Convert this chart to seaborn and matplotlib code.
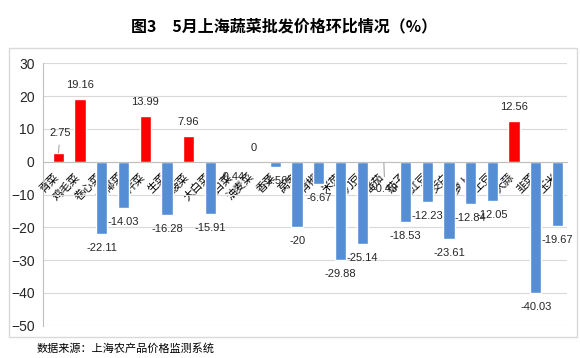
import matplotlib
matplotlib.use("Agg")
import matplotlib.pyplot as plt
import matplotlib.transforms as mtrans
from matplotlib.patches import Rectangle
import seaborn as sns
import pandas as pd

# ---- data ----
categories = ["青菜", "鸡毛菜", "卷心菜", "花椰菜", "芹菜", "生菜", "菠菜", "大白菜",
              "杭白菜", "油麦菜", "香菜", "莴笋", "青椒", "米苋", "刀豆", "番茄",
              "茄子", "长豇豆", "茭白", "白萝卜", "土豆", "大蒜", "韭菜", "玉米"]
values = [2.75, 19.16, -22.11, -14.03, 13.99, -16.28, 7.96, -15.91,
          -0.44, 0, -1.56, -20, -6.67, -29.88, -25.14, -0.43,
          -18.53, -12.23, -23.61, -12.84, -12.05, 12.56, -40.03, -19.67]
value_labels = ["2.75", "19.16", "-22.11", "-14.03", "13.99", "-16.28", "7.96", "-15.91",
                "-0.44", "0", "-1.56", "-20", "-6.67", "-29.88", "-25.14", "-0.43",
                "-18.53", "-12.23", "-23.61", "-12.84", "-12.05", "12.56", "-40.03", "-19.67"]
yticks = [-50, -40, -30, -20, -10, 0, 10, 20, 30]
title = "图3　5月上海蔬菜批发价格环比情况（%）"
source = "数据来源：上海农产品价格监测系统"

RED = "#FF0000"
BLUE = "#558ED5"
colors = [RED if v > 0 else BLUE for v in values]

sns.set_style("white")
plt.rcParams["font.family"] = ["Liberation Sans", "Noto Sans CJK SC", "DejaVu Sans"]

df = pd.DataFrame({"cat": categories, "val": values})

fig = plt.figure(figsize=(5.8, 3.58), dpi=100)
ax = fig.add_axes([43 / 580, 1 - 325.7 / 358, 524 / 580, (325.7 - 63.3) / 358])

sns.barplot(data=df, x="cat", y="val", hue="cat", palette=colors, legend=False,
            width=0.52, saturation=1, ax=ax, zorder=2)

ax.set_ylim(-50, 30)
ax.set_yticks(yticks)
ax.set_xlim(-0.71, 23.44)
ax.set_xlabel("")
ax.set_ylabel("")

ax.grid(axis="y", color="#D9D9D9", lw=0.8)
ax.grid(axis="x", visible=False)
ax.set_axisbelow(True)
for s in ["top", "right"]:
    ax.spines[s].set_visible(False)
ax.spines["left"].set_color("#BFBFBF")
ax.spines["left"].set_linewidth(0.8)
ax.spines["bottom"].set_position(("data", 0))
ax.spines["bottom"].set_color("#BFBFBF")
ax.spines["bottom"].set_linewidth(0.8)

ax.tick_params(axis="y", length=3, color="#BFBFBF", labelsize=10, pad=3, labelcolor="#262626")
ax.tick_params(axis="x", length=0, pad=7)

ax.set_xticks(range(len(categories)))
ax.set_xticklabels(categories, rotation=45, ha="right", va="top", rotation_mode="anchor",
                   fontsize=8, family=["Noto Sans CJK SC", "DejaVu Sans"], color="#000000")
shift = mtrans.ScaledTranslation(-5 / 100, 0, fig.dpi_scale_trans)
for lab in ax.get_xticklabels():
    lab.set_transform(lab.get_transform() + shift)
    lab.set_zorder(5)

# value labels
for i, (v, t) in enumerate(zip(values, value_labels)):
    if i == 0:
        ax.annotate(t, xy=(i, v), xytext=(2, 20), textcoords="offset pixels",
                    ha="center", va="center", fontsize=8, color="#262626",
                    arrowprops=dict(arrowstyle="-", color="#A6A6A6", lw=0.8,
                                    shrinkA=3, shrinkB=0), zorder=6)
    elif i == 15:
        ax.annotate(t, xy=(i, v), xytext=(1, -26), textcoords="offset pixels",
                    ha="center", va="center", fontsize=8, color="#262626",
                    arrowprops=dict(arrowstyle="-", color="#A6A6A6", lw=0.8,
                                    shrinkA=3, shrinkB=0), zorder=6)
    else:
        dy = 14 if v >= 0 else -14
        ax.annotate(t, xy=(i, v), xytext=(0, dy), textcoords="offset pixels",
                    ha="center", va="center", fontsize=8, color="#262626", zorder=6)

# chart frame
fig.patches.append(Rectangle((9 / 580, 1 - 337 / 358), (577 - 9) / 580, (337 - 48) / 358,
                             transform=fig.transFigure, fill=False,
                             edgecolor="#D9D9D9", lw=1))

fig.text(284 / 580, 1 - 26 / 358, title, ha="center", va="center", fontsize=11.5,
         fontweight="bold", family=["Noto Sans CJK SC", "DejaVu Sans"], color="#000000")
fig.text(37 / 580, 1 - 348 / 358, source, ha="left", va="center", fontsize=8,
         family=["Noto Sans CJK SC", "DejaVu Sans"], color="#000000")

fig.savefig("out.png", dpi=100)
